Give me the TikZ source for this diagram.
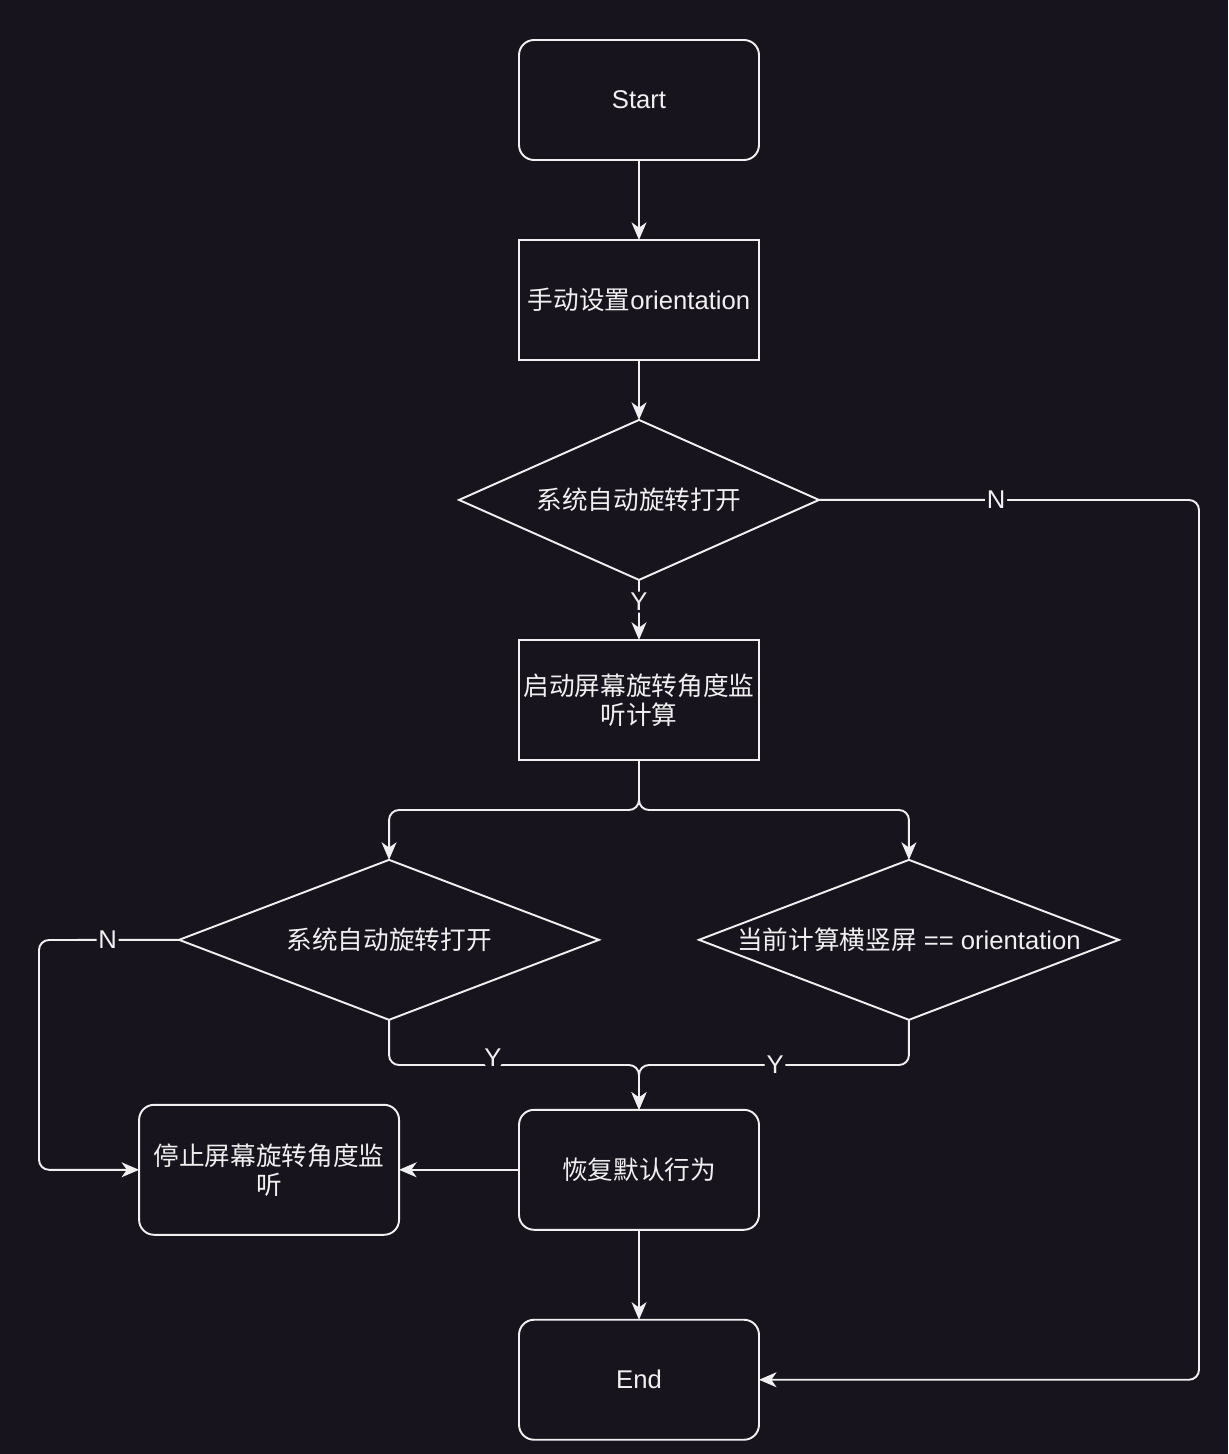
\documentclass[tikz,border=0pt]{standalone}
\usepackage{fontspec}
\setmainfont{Liberation Sans}
\newfontfamily\cjk{Noto Sans CJK SC}
\usepackage{tikz}
\usetikzlibrary{shapes.geometric, arrows.meta, positioning}
\definecolor{bgdark}{RGB}{24, 20, 29}
\definecolor{fgline}{RGB}{240, 240, 240}

\begin{document}
\begin{tikzpicture}[
    x=0.02cm, y=-0.02cm,
    font=\fontsize{14.6}{16.4}\selectfont, text=fgline,
    term/.style={draw=fgline, line width=1.1pt, outer sep=0pt, inner xsep=1pt, rounded corners=0.3cm, fill=bgdark, minimum width=4.8cm, minimum height=2.4cm, align=center},
    proc/.style={draw=fgline, line width=1.1pt, outer sep=0pt, inner xsep=1pt, fill=bgdark, minimum width=4.8cm, minimum height=2.4cm, align=center},
    dec/.style={draw=fgline, line width=1.1pt, outer sep=0pt, diamond, aspect=2.625, inner sep=0pt, fill=bgdark, minimum width=7.2cm, minimum height=3.2cm, align=center},
    arr/.style={-{Stealth[length=10pt, width=8.5pt, inset=3pt]}, draw=fgline, line width=1.1pt, rounded corners=0.2cm},
    lbl/.style={fill=bgdark, inner sep=1pt, text=fgline}
]
    \fill[bgdark] (0,0) rectangle (1228,1454);

    \node[term] (start) at (639,100) {Start};
    \node[proc, below=1.6cm of start] (manual) {{\cjk 手动设置}orientation};
    \node[dec, below=1.2cm of manual] (d1) {\cjk 系统自动旋转打开};
    \node[proc, below=1.2cm of d1] (listen) {\cjk 启动屏幕旋转角度监\\\cjk 听计算};
    \node[dec, below=2cm of listen, xshift=-5cm, minimum width=8.4cm] (d2) {\cjk 系统自动旋转打开};
    \node[dec, below=2cm of listen, xshift=5.4cm, minimum width=8.4cm] (d3) {{\cjk 当前计算横竖屏} == orientation};
    \node[term, below=7cm of listen] (restore) {\cjk 恢复默认行为};
    \node[term, left=2.4cm of restore, minimum width=5.2cm, minimum height=2.6cm] (stop) {\cjk 停止屏幕旋转角度监\\\cjk 听};
    \node[term, below=1.8cm of restore] (end) {End};

    \coordinate (rturn) at (1199,500);
    \coordinate (lturn) at (39,940);
    \coordinate (split) at (639,810);
    \coordinate (mjoin) at (639,1065);

    \draw[arr] (start) -- (manual);
    \draw[arr] (manual) -- (d1);
    \draw[arr] (d1.south) -- node[lbl, pos=0.37] {Y} (listen.north);
    \draw[arr] (d1.east) -- node[lbl, pos=0.466] {N} (rturn) |- (end.east);
    \draw[arr] (listen.south) -- (split) -| (d2.north);
    \draw[arr] (listen.south) -- (split) -| (d3.north);
    \draw[arr] (d2.south) -- (d2.south |- mjoin) -- node[lbl, pos=0.416, yshift=4pt] {Y} (mjoin) -- (restore.north);
    \draw[arr] (d3.south) -- (d3.south |- mjoin) -- node[lbl, pos=0.496] {Y} (mjoin) -- (restore.north);
    \draw[arr] (d2.west) -- node[lbl, pos=0.51] {N} (lturn) |- (stop.west);
    \draw[arr] (restore.west) -- (stop.east);
    \draw[arr] (restore) -- (end);
\end{tikzpicture}
\end{document}
